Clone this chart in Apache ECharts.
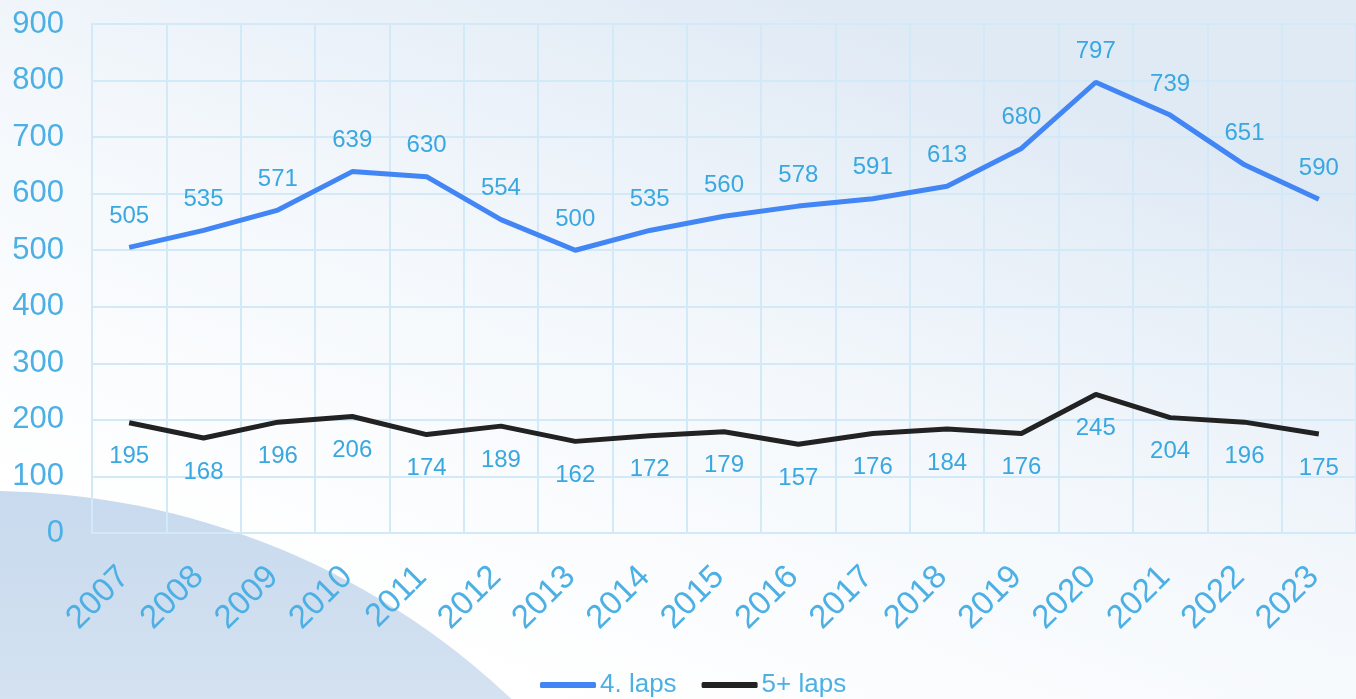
<!DOCTYPE html>
<html>
<head>
<meta charset="utf-8">
<title>laps</title>
<script src="https://cdn.jsdelivr.net/npm/echarts@6/dist/echarts.min.js"></script>
<style>
  html, body { margin: 0; padding: 0; }
  #chart { width: 1356px; height: 699px; }
</style>
</head>
<body>
<div id="chart"></div>
<script>
// data
const years = ['2007', '2008', '2009', '2010', '2011', '2012', '2013', '2014', '2015',
  '2016', '2017', '2018', '2019', '2020', '2021', '2022', '2023'];
const laps4 = [505, 535, 571, 639, 630, 554, 500, 535, 560, 578, 591, 613, 680, 797, 739, 651, 590];
const laps5 = [195, 168, 196, 206, 174, 189, 162, 172, 179, 157, 176, 184, 176, 245, 204, 196, 175];
const seriesNames = ['4. laps', '5+ laps'];
const lineColors = ['#4285f4', '#222222'];

const txtColor = '#4cb0e4';
const gridColor = '#d2e9f7';
const font = '"Liberation Sans", Arial, sans-serif';

const myChart = echarts.init(document.getElementById('chart'));

const makeSeries = (i, data, pos, dist) => ({
  name: seriesNames[i],
  type: 'line',
  data: data,
  symbol: 'circle',
  symbolSize: 2,
  showSymbol: true,
  itemStyle: { color: 'rgba(0,0,0,0)' },
  lineStyle: { width: 5, color: lineColors[i] },
  label: {
    show: true,
    position: pos,
    distance: dist,
    color: '#3aa8e0',
    fontSize: 24,
    fontFamily: font,
  },
});

const option = {
  backgroundColor: '#f7fafd',
  graphic: [
    {
      type: 'rect',
      z: -10,
      silent: true,
      shape: { x: 0, y: 0, width: 1356, height: 699 },
      style: {
        fill: {
          type: 'linear', x: 0.6, y: 0, x2: 0.4, y2: 1,
          colorStops: [
            { offset: 0, color: '#e0eaf5' },
            { offset: 0.5, color: '#f4f8fc' },
            { offset: 1, color: '#ffffff' },
          ],
        },
      },
    },
    {
      // the big curved shape at the bottom left
      type: 'circle',
      z: -9,
      silent: true,
      shape: { cx: -11, cy: 1251, r: 760 },
      style: {
        fill: {
          type: 'linear', x: 0, y: 0, x2: 0, y2: 1,
          colorStops: [
            { offset: 0, color: '#c8daee' },
            { offset: 0.2, color: '#d9e5f2' },
            { offset: 1, color: '#e8eff8' },
          ],
        },
      },
    },
  ],
  legend: {
    data: seriesNames.map((n, i) => ({ name: n, itemStyle: { color: lineColors[i] } })),
    top: 672,
    left: 540,
    padding: 0,
    icon: 'roundRect',
    itemWidth: 56,
    itemHeight: 6,
    itemGap: 25,
    textStyle: { color: txtColor, fontSize: 26, fontFamily: font, padding: [0, 0, 0, -1] },
  },
  grid: { left: 92, right: 0, top: 24, bottom: 166 },
  xAxis: {
    type: 'category',
    data: years,
    boundaryGap: true,
    axisLine: { lineStyle: { color: gridColor, width: 2 } },
    axisTick: { show: false },
    splitLine: { show: true, lineStyle: { color: gridColor, width: 2 } },
    axisLabel: {
      rotate: 45,
      margin: 34,
      padding: [0, 7, 0, 0],
      color: txtColor,
      fontSize: 33,
      fontFamily: font,
    },
  },
  yAxis: {
    type: 'value',
    min: 0,
    max: 900,
    interval: 100,
    axisLine: { show: true, lineStyle: { color: gridColor, width: 2 } },
    axisTick: { show: false },
    splitLine: { lineStyle: { color: gridColor, width: 2 } },
    axisLabel: { margin: 28, color: txtColor, fontSize: 31, fontFamily: font },
  },
  series: [
    makeSeries(0, laps4, 'top', 18),
    makeSeries(1, laps5, 'bottom', 21),
  ],
};

myChart.setOption(option);
</script>
</body>
</html>
